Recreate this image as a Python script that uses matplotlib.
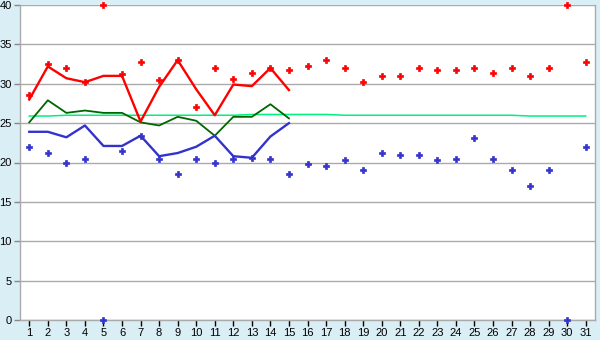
import matplotlib
matplotlib.use("Agg")
import matplotlib.pyplot as plt

days = list(range(1, 32))
day_labels = [str(d) for d in days]

max_points = [28.6, 32.5, 32.0, 30.2, 40, 31.2, 32.8, 30.5, 33.0, 27.0, 32.0, 30.6, 31.4, 32.0, 31.8,
              32.2, 33.0, 32.0, 30.2, 31.0, 31.0, 32.0, 31.8, 31.8, 32.0, 31.4, 32.0, 31.0, 32.0, 40, 32.8]
min_points = [22.0, 21.2, 20.0, 20.5, 0, 21.5, 23.4, 20.5, 18.5, 20.5, 20.0, 20.5, 20.6, 20.5, 18.5,
              19.8, 19.5, 20.3, 19.0, 21.2, 21.0, 21.0, 20.3, 20.5, 23.1, 20.5, 19.0, 17.0, 19.0, 0, 22.0]

line_days = list(range(1, 16))
max_line = [28.0, 32.2, 30.7, 30.2, 31.0, 31.0, 25.2, 29.6, 33.0, 29.3, 26.0, 29.9, 29.7, 32.0, 29.2]
min_line = [23.9, 23.9, 23.2, 24.7, 22.1, 22.1, 23.4, 20.8, 21.2, 22.0, 23.4, 20.8, 20.6, 23.3, 25.0]
avg_line = [25.1, 27.9, 26.3, 26.6, 26.3, 26.3, 25.1, 24.7, 25.8, 25.3, 23.4, 25.8, 25.8, 27.4, 25.6]

norm_line = [25.9, 25.9] + [26.0] * 10 + [26.1] * 5 + [26.0] * 10 + [25.9] * 4

y_ticks = [0, 5, 10, 15, 20, 25, 30, 35, 40]

plt.rcParams['font.family'] = ['Liberation Sans', 'DejaVu Sans']

fig = plt.figure(figsize=(6.0, 3.4), dpi=100)
fig.patch.set_facecolor('#DAEEF5')
ax = fig.add_axes([20 / 600, 20 / 340, 575 / 600, 315 / 340])
ax.set_facecolor('white')

ax.set_xlim(0.5, 31.5)
ax.set_ylim(0, 40)
ax.set_yticks(y_ticks)
ax.set_yticklabels([str(v) for v in y_ticks])
ax.set_xticks(days)
ax.set_xticklabels(day_labels)

ax.grid(axis='y', color='#AAAAAA', linewidth=1.0)
ax.set_axisbelow(True)
for s in ax.spines.values():
    s.set_color('#AAAAAA')
    s.set_linewidth(1.0)
ax.spines['top'].set_visible(False)

ax.tick_params(axis='both', direction='out', length=4, width=1, labelsize=8, colors='black', pad=2)
ax.tick_params(axis='y', color='#888888')
ax.tick_params(axis='x', color='black')

ax.plot(days, norm_line, color='#00F080', linewidth=1.1, zorder=2)
ax.plot(line_days, avg_line, color='#006600', linewidth=1.3, zorder=3)
ax.plot(line_days, max_line, color='#FF0000', linewidth=1.7, zorder=3)
ax.plot(line_days, min_line, color='#3333CC', linewidth=1.7, zorder=3)

ax.plot(days, max_points, linestyle='none', marker='P', markersize=4.2, color='#FF0000',
        markeredgecolor='#FF0000', markeredgewidth=0.5, zorder=4, clip_on=False)
ax.plot(days, min_points, linestyle='none', marker='P', markersize=4.2, color='#3333CC',
        markeredgecolor='#3333CC', markeredgewidth=0.5, zorder=4, clip_on=False)

fig.savefig('out.png', dpi=100, facecolor=fig.get_facecolor())
